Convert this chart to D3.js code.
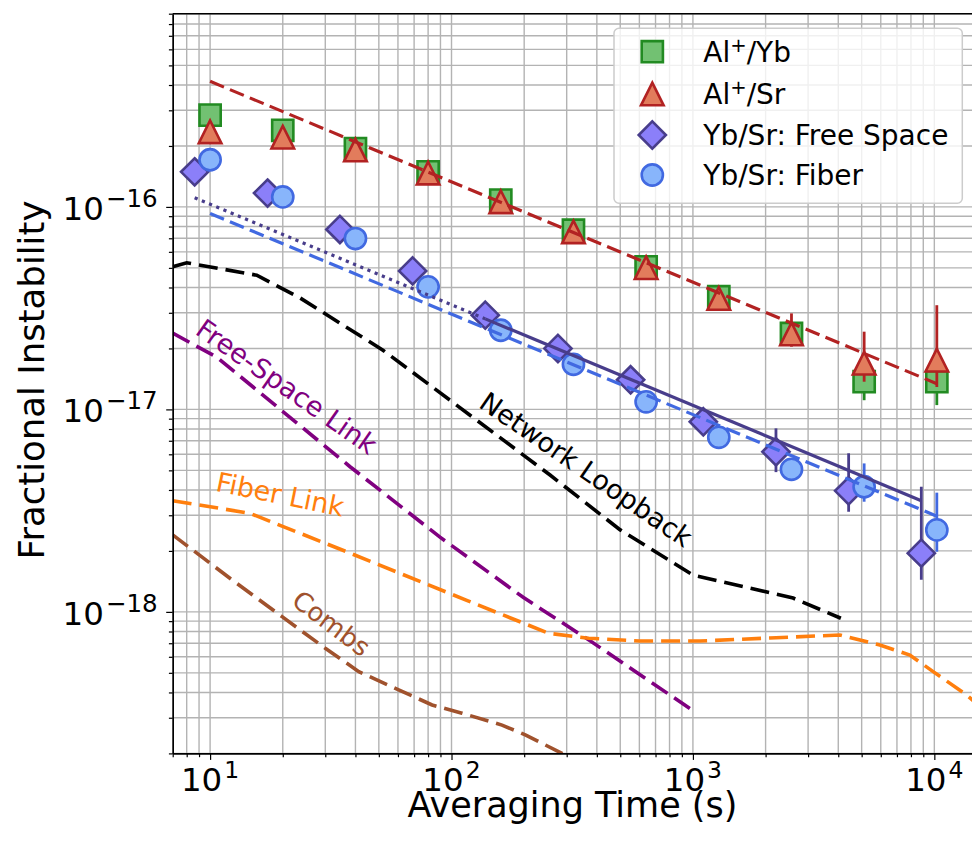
<!DOCTYPE html>
<html><head><meta charset="utf-8">
<script src="https://cdn.jsdelivr.net/npm/d3@7"></script>
<style>
body{margin:0;background:#fff;}
svg text{font-family:"DejaVu Sans",sans-serif;}
</style>
</head><body>
<svg id="chart" width="972" height="846"></svg>
<script>
// ---------------- data ----------------
const tauAl = [10,20,40,80,160,320,640,1280,2560,5120,10240];
const alYb   = [2.84e-16,2.39e-16,1.94e-16,1.49e-16,1.08e-16,7.67e-17,5.06e-17,3.6e-17,2.37e-17,1.37e-17,1.37e-17];
const alYbLo = [2.76e-16,2.33e-16,1.89e-16,1.45e-16,1.05e-16,7.45e-17,4.9e-17,3.45e-17,2.2e-17,1.11e-17,1.05e-17];
const alYbHi = [2.92e-16,2.45e-16,1.99e-16,1.53e-16,1.11e-16,7.9e-17,5.2e-17,3.75e-17,2.55e-17,1.68e-17,1.79e-17];
const alSr   = [2.35e-16,2.21e-16,1.91e-16,1.47e-16,1.06e-16,7.53e-17,5.01e-17,3.53e-17,2.36e-17,1.69e-17,1.75e-17];
const alSrLo = [2.28e-16,2.15e-16,1.86e-16,1.43e-16,1.03e-16,7.3e-17,4.85e-17,3.35e-17,2.04e-17,1.37e-17,1.29e-17];
const alSrHi = [2.42e-16,2.27e-16,1.96e-16,1.51e-16,1.09e-16,7.75e-17,5.2e-17,3.72e-17,2.98e-17,2.42e-17,3.27e-17];

const tauFS = [8.63,17.3,34.5,69,138,276,552,1104,2208,4416,8832];
const ybSrFS   = [1.49e-16,1.17e-16,7.74e-17,4.83e-17,2.92e-17,2.0e-17,1.40e-17,8.69e-18,6.18e-18,3.96e-18,1.95e-18];
const ybSrFSLo = [1.44e-16,1.13e-16,7.5e-17,4.68e-17,2.83e-17,1.93e-17,1.34e-17,8.2e-18,4.9e-18,3.12e-18,1.44e-18];
const ybSrFSHi = [1.54e-16,1.21e-16,7.98e-17,4.98e-17,3.01e-17,2.07e-17,1.46e-17,9.2e-18,8.06e-18,6.07e-18,4.15e-18];

const tauFib = [10,20,40,80,160,320,640,1280,2560,5120,10240];
const ybSrFib   = [1.71e-16,1.12e-16,6.98e-17,4.03e-17,2.46e-17,1.67e-17,1.09e-17,7.28e-18,5.06e-18,4.15e-18,2.54e-18];
const ybSrFibLo = [1.65e-16,1.08e-16,6.75e-17,3.9e-17,2.38e-17,1.61e-17,1.05e-17,7.0e-18,4.85e-18,3.5e-18,1.98e-18];
const ybSrFibHi = [1.77e-16,1.16e-16,7.2e-17,4.16e-17,2.54e-17,1.73e-17,1.13e-17,7.55e-18,5.28e-18,5.41e-18,3.88e-18];

// fit lines (end points)
const fitAl      = [[10,4.17e-16],[10240,1.34e-17]];
const fitFSdot   = [[8.63,1.11e-16],[138,2.8e-17]];
const fitFSsolid = [[138,2.8e-17],[8832,3.54e-18]];
const fitFib     = [[10,9.28e-17],[10240,2.97e-18]];

// noise floors [tau, value]
const networkLoop = [[7,5.06e-17],[8,5.3e-17],[15.6,4.6e-17],[23.6,3.55e-17],[52,1.96e-17],[98.6,1.11e-17],[256,4.74e-18],[500,2.54e-18],[1000,1.52e-18],[2600,1.17e-18],[4100,9.3e-19]];
const freeSpaceLink = [[7,2.38e-17],[10.66,1.81e-17],[38,5.21e-18],[89.6,2.34e-18],[198,1.18e-18],[371,7.26e-19],[990,3.28e-19]];
const fiberLink = [[7,3.54e-18],[14.6,3.07e-18],[38,1.95e-18],[115.6,1.14e-18],[252.6,7.84e-19],[370,7.41e-19],[603,7.18e-19],[1069,7.18e-19],[2084,7.43e-19],[4062,7.69e-19],[5948,6.86e-19],[7917,6.12e-19],[9886,5.07e-19],[13594,3.89e-19],[16000,3.3e-19]];
const combs = [[7,2.4e-18],[12.33,1.44e-18],[19.87,9.47e-19],[30,6.61e-19],[41.3,5.07e-19],[60.4,4.12e-19],[83.1,3.47e-19],[110.5,3.16e-19],[161.9,2.76e-19],[202.1,2.47e-19],[286.8,2.0e-19],[400,1.6e-19]];

const xMajor = [10,100,1000,10000];
const xExp = ["1","2","3","4"];
const yMajor = [1e-18,1e-17,1e-16];
const yExp = ["\u221218","\u221217","\u221216"];

const legendLabels = [["Al","+","/Yb"],["Al","+","/Sr"],["Yb/Sr: Free Space","",""],["Yb/Sr: Fiber","",""]];

const annotations = [
  {text:"Free-Space Link", tau:20.7, val:1.29e-17, angle:35, color:"#800080", size:27},
  {text:"Network Loopback", tau:359.8, val:5.02e-18, angle:34.5, color:"#000000", size:27},
  {text:"Fiber Link", tau:19.5, val:3.78e-18, angle:11.5, color:"#ff7f0e", size:27},
  {text:"Combs", tau:31.7, val:8.72e-19, angle:37, color:"#a0522d", size:26}
];

// ---------------- drawing ----------------
const svg = d3.select("#chart");
const L=172.7, R=973, T=13.7, B=753.4;
const x = d3.scaleLog().domain([7,14460]).range([L,R]);
const y = d3.scaleLog().domain([2e-19,9e-16]).range([B,T]);

svg.append("defs").append("clipPath").attr("id","clip")
  .append("rect").attr("x",L).attr("y",T).attr("width",R-L).attr("height",B-T);

const isMajor = v => Math.abs(Math.log10(v)-Math.round(Math.log10(v)))<1e-6;

// grid
const grid = svg.append("g").attr("stroke","#b3b3b3").attr("stroke-width",1.4);
grid.selectAll("line.vx").data(x.ticks()).join("line")
  .attr("x1",d=>x(d)).attr("x2",d=>x(d)).attr("y1",T).attr("y2",B);
grid.selectAll("line.hy").data(y.ticks()).join("line")
  .attr("y1",d=>y(d)).attr("y2",d=>y(d)).attr("x1",L).attr("x2",R);

const plot = svg.append("g").attr("clip-path","url(#clip)");
const line = d3.line().x(d=>x(d[0])).y(d=>y(d[1]));

// noise floors
const noise = [
  [networkLoop,"#000000"],[freeSpaceLink,"#800080"],[fiberLink,"#ff7f0e"],[combs,"#a0522d"]
];
noise.forEach(([d,c])=>{
  plot.append("path").datum(d).attr("d",line).attr("fill","none")
    .attr("stroke",c).attr("stroke-width",3.6).attr("stroke-dasharray","19,8");
});

// markers
function sq(s){return `M${-s},${-s}H${s}V${s}H${-s}Z`;}
function tri(s){return `M0,${-s}L${s},${s}L${-s},${s}Z`;}
function dia(s){return `M0,${-s}L${s},0L0,${s}L${-s},0Z`;}
function circ(r){return `M${r},0A${r},${r} 0 1,1 ${-r},0A${r},${r} 0 1,1 ${r},0Z`;}

const series = [
  {tau:tauAl, v:alYb, lo:alYbLo, hi:alYbHi, path:sq(10.6), fill:"#72c172", stroke:"#228b22"},
  {tau:tauAl, v:alSr, lo:alSrLo, hi:alSrHi, path:tri(11.3), fill:"#e27c5c", stroke:"#b22222"},
  {tau:tauFS, v:ybSrFS, lo:ybSrFSLo, hi:ybSrFSHi, path:dia(13.6), fill:"#8b7ff9", stroke:"#483d8b"},
  {tau:tauFib, v:ybSrFib, lo:ybSrFibLo, hi:ybSrFibHi, path:circ(10.6), fill:"#88b5fb", stroke:"#4169e1"}
];
series.forEach(s=>{
  const g = plot.append("g");
  g.selectAll("line").data(s.tau).join("line")
    .attr("x1",d=>x(d)).attr("x2",d=>x(d))
    .attr("y1",(d,i)=>y(s.lo[i])).attr("y2",(d,i)=>y(s.hi[i]))
    .attr("stroke",s.stroke).attr("stroke-width",2.8);
  g.selectAll("path").data(s.tau).join("path")
    .attr("d",s.path).attr("transform",(d,i)=>`translate(${x(d)},${y(s.v[i])})`)
    .attr("fill",s.fill).attr("stroke",s.stroke).attr("stroke-width",2.6);
});

// fits
plot.append("path").datum(fitAl).attr("d",line).attr("fill","none").attr("stroke","#b22222").attr("stroke-width",3.2).attr("stroke-dasharray","15,6.5");
plot.append("path").datum(fitFib).attr("d",line).attr("fill","none").attr("stroke","#4169e1").attr("stroke-width",3.2).attr("stroke-dasharray","15,6.5");
plot.append("path").datum(fitFSdot).attr("d",line).attr("fill","none").attr("stroke","#483d8b").attr("stroke-width",3.2).attr("stroke-dasharray","3.2,4.6");
plot.append("path").datum(fitFSsolid).attr("d",line).attr("fill","none").attr("stroke","#483d8b").attr("stroke-width",3.2);

// annotations
annotations.forEach(a=>{
  svg.append("text").attr("transform",`translate(${x(a.tau)},${y(a.val)}) rotate(${a.angle})`)
    .attr("text-anchor","middle").attr("dy","0.33em")
    .attr("font-size",a.size).attr("fill",a.color).text(a.text);
});

// axes
const xAxis = d3.axisBottom(x).tickValues(x.ticks()).tickSize(0).tickSizeOuter(0).tickFormat("");
const gx = svg.append("g").attr("transform",`translate(0,${B})`).call(xAxis);
gx.select(".domain").attr("stroke","#000").attr("stroke-width",1.6);
gx.selectAll(".tick line").attr("stroke","#000").attr("stroke-width",1.2)
  .attr("y2",d=>isMajor(d)?6.5:3.8);

const yAxis = d3.axisLeft(y).tickValues(y.ticks()).tickSize(0).tickSizeOuter(0).tickFormat("");
const gy = svg.append("g").attr("transform",`translate(${L},0)`).call(yAxis);
gy.select(".domain").attr("stroke","#000").attr("stroke-width",1.6);
gy.selectAll(".tick line").attr("stroke","#000").attr("stroke-width",1.2)
  .attr("x2",d=>isMajor(d)?-6.5:-3.8);

// top / right spines
svg.append("line").attr("x1",L).attr("x2",R).attr("y1",T).attr("y2",T).attr("stroke","#000").attr("stroke-width",1.6);
svg.append("line").attr("x1",R).attr("x2",R).attr("y1",T).attr("y2",B).attr("stroke","#000").attr("stroke-width",1.6);

// tick labels
xMajor.forEach((v,i)=>{
  const t = svg.append("text").attr("x",x(v)).attr("y",B+38).attr("text-anchor","middle").attr("fill","#000");
  t.append("tspan").attr("font-size",32.5).text("10");
  t.append("tspan").attr("font-size",23.5).attr("dx",2).attr("dy",-13).text(xExp[i]);
});
yMajor.forEach((v,i)=>{
  const t = svg.append("text").attr("x",L-15).attr("y",y(v)+13).attr("text-anchor","end").attr("fill","#000");
  t.append("tspan").attr("font-size",32.5).text("10");
  t.append("tspan").attr("font-size",24.5).attr("dx",2).attr("dy",-13).text(yExp[i]);
});

// axis labels
svg.append("text").attr("x",572.5).attr("y",817).attr("text-anchor","middle").attr("font-size",35).text("Averaging Time (s)");
svg.append("text").attr("transform",`translate(44,380) rotate(-90)`).attr("text-anchor","middle").attr("font-size",35.5).text("Fractional Instability");

// legend
const lg = svg.append("g");
lg.append("rect").attr("x",614).attr("y",28.3).attr("width",348.3).attr("height",175).attr("rx",5)
  .attr("fill","#fff").attr("fill-opacity",0.8).attr("stroke","#cccccc").attr("stroke-width",1.5);
const rowsY = [51.7,94,135,175];
series.forEach((s,i)=>{
  lg.append("path").attr("d",s.path).attr("transform",`translate(652.3,${rowsY[i]})`)
    .attr("fill",s.fill).attr("stroke",s.stroke).attr("stroke-width",2.6);
  const t = lg.append("text").attr("x",703.3).attr("y",rowsY[i]+10).attr("font-size",28).attr("fill","#000");
  const lab = legendLabels[i];
  t.append("tspan").text(lab[0]);
  if(lab[1]){
    t.append("tspan").attr("font-size",19.6).attr("dy",-10).text(lab[1]);
    t.append("tspan").attr("dy",10).text(lab[2]);
  }
});
</script>
</body></html>
